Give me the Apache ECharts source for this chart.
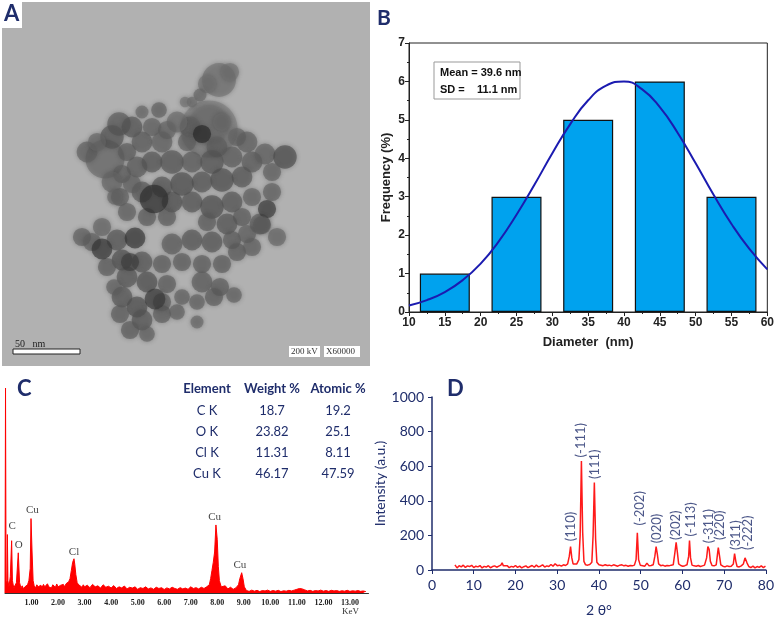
<!DOCTYPE html>
<html>
<head>
	<meta charset="UTF-8">
	<title>CuO nanoparticles: TEM, size, EDX, XRD</title>
	<script src="https://cdn.jsdelivr.net/npm/echarts@6/dist/echarts.min.js"></script>
	<style>
		html, body { margin: 0; padding: 0; background: #fff; }
		#main { width: 777px; height: 618px; }
	</style>
</head>
<body>
<div id="main"></div>

<script type="text/javascript">

	// ---- panel A : particles (x, y in image px, size, darkness)
	var temParticles = [
		[207,127,44,0.2],[103,157,30,0.35],
		[217,78,26,0.3],[228,70,14,0.3],[205,82,14,0.3],[198,93,10,0.4],[190,100,8,0.35],[183,100,8,0.3],
		[207,123,30,0.3],[188,125,16,0.45],[220,120,14,0.35],[185,140,14,0.45],[215,145,16,0.45],[200,132,14,0.95],
		[157,108,12,0.45],[140,110,10,0.4],[175,120,16,0.35],[165,128,14,0.4],[235,135,14,0.4],[245,140,16,0.45],
		[117,122,18,0.5],[130,125,16,0.55],[110,135,18,0.55],[140,140,16,0.5],[125,150,14,0.5],[150,125,14,0.45],
		[160,140,16,0.45],[85,150,16,0.45],[95,140,14,0.4],
		[120,172,14,0.45],[135,165,16,0.5],[150,160,16,0.55],[170,160,18,0.55],[190,160,16,0.5],[210,160,18,0.55],
		[230,155,16,0.5],[250,160,16,0.5],[263,152,16,0.45],[283,155,18,0.65],[270,170,14,0.45],[240,175,16,0.55],
		[220,178,18,0.6],[200,180,16,0.55],[180,182,18,0.6],[160,185,16,0.55],[140,190,16,0.5],[118,195,14,0.45],
		[110,180,16,0.4],[130,182,14,0.45],[270,190,14,0.45],
		[170,200,16,0.6],[190,200,16,0.55],[210,205,18,0.6],[230,200,16,0.55],[250,195,14,0.45],
		[258,222,16,0.45],[240,215,14,0.5],[225,222,16,0.55],[205,220,14,0.5],[165,215,14,0.5],
		[145,215,14,0.5],[125,210,14,0.45],[113,195,12,0.4],[152,197,22,0.9],[265,207,14,0.8],
		[100,225,14,0.4],[80,235,14,0.45],[90,240,14,0.45],[115,238,16,0.55],[170,242,16,0.5],[190,238,16,0.55],
		[210,240,16,0.55],[230,238,14,0.5],[245,232,14,0.45],[235,250,14,0.5],[250,245,14,0.45],[275,235,14,0.4],
		[120,258,16,0.6],[140,260,16,0.55],[160,262,14,0.5],[105,265,14,0.5],
		[180,260,14,0.5],[200,262,14,0.5],[220,262,14,0.5],[200,280,16,0.5],[218,285,14,0.5],[232,293,12,0.45],
		[212,295,14,0.5],[125,275,16,0.55],[145,280,16,0.6],[165,282,14,0.5],[120,295,16,0.55],[135,305,16,0.6],
		[112,285,12,0.45],[118,312,14,0.5],[140,318,16,0.55],[160,312,14,0.5],[128,328,14,0.5],[145,332,12,0.45],
		[160,300,14,0.5],[175,310,12,0.45],[180,295,12,0.45],[195,300,12,0.45],[195,320,10,0.4],
		[100,247,16,0.85],[133,236,16,0.85],[128,260,14,0.75],[153,297,16,0.8],[260,223,14,0.5]
	];

	// ---- panel B : size histogram
	var binCenters = [15, 25, 35, 45, 55];
	var binFreq = [1, 3, 5, 6, 3];
	var fitX = [10, 12.5, 15, 17.5, 20, 22.5, 25, 27.5, 30, 32.5, 35, 37.5, 40, 42.5, 45, 47.5, 50, 52.5, 55, 57.5, 60];
	var fitY = [0.17, 0.31, 0.52, 0.83, 1.26, 1.83, 2.53, 3.31, 4.13, 4.89, 5.51, 5.89, 6.0, 5.80, 5.33, 4.66, 3.87, 3.05, 2.29, 1.64, 1.11];

	// ---- panel C : EDX spectrum (keV, counts) and composition table
	var edsSpectrum = [
		[0.00,0],[0.02,1000],[0.04,60],[0.07,40],[0.09,285],[0.11,60],[0.15,30],[0.20,80],[0.25,255],[0.28,60],
		[0.33,25],[0.38,30],[0.43,50],[0.50,196],[0.55,50],[0.60,25],[0.65,35],[0.70,20],[0.75,30],[0.80,25],
		[0.85,40],[0.90,60],[0.95,120],[0.98,363],[1.02,200],[1.06,60],[1.10,35],[1.15,25],[1.20,40],[1.25,30],
		[1.30,22],[1.35,38],[1.40,28],[1.45,42],[1.50,30],[1.55,25],[1.60,45],[1.65,30],[1.70,36],[1.75,24],
		[1.80,40],[1.85,32],[1.90,28],[1.95,44],[2.00,30],[2.05,26],[2.10,38],[2.15,33],[2.20,42],[2.25,30],
		[2.30,45],[2.35,40],[2.40,55],[2.45,70],[2.50,110],[2.55,150],[2.60,167],[2.63,140],[2.67,90],[2.72,50],
		[2.78,40],[2.85,35],[2.90,28],[2.95,40],[3.00,30],[3.10,38],[3.20,26],[3.30,42],[3.40,30],[3.50,35],
		[3.60,24],[3.70,40],[3.80,28],[3.90,33],[4.00,25],[4.10,36],[4.20,22],[4.30,30],[4.40,25],[4.50,34],
		[4.60,20],[4.70,28],[4.80,24],[4.90,30],[5.00,18],[5.10,26],[5.20,22],[5.30,30],[5.40,20],[5.50,25],
		[5.60,18],[5.70,28],[5.80,22],[5.90,26],[6.00,17],[6.10,25],[6.20,20],[6.30,28],[6.40,22],[6.50,18],
		[6.60,26],[6.70,20],[6.80,24],[6.90,18],[7.00,30],[7.10,22],[7.20,26],[7.30,20],[7.40,28],[7.50,22],
		[7.60,30],[7.70,40],[7.75,70],[7.80,110],[7.85,150],[7.90,200],[7.95,332],[8.00,260],[8.04,130],[8.08,60],
		[8.15,30],[8.20,25],[8.30,35],[8.40,20],[8.50,28],[8.60,18],[8.70,25],[8.80,40],[8.85,70],[8.92,99],
		[8.97,70],[9.02,30],[9.10,12],[9.20,8],[9.30,14],[9.40,9],[9.50,13],[9.60,7],[9.70,12],[9.80,10],
		[9.90,14],[10.00,8],[10.10,12],[10.20,9],[10.30,13],[10.40,7],[10.50,11],[10.60,9],[10.70,13],[10.80,10],
		[10.90,14],[11.00,18],[11.10,22],[11.20,20],[11.30,15],[11.40,10],[11.50,13],[11.60,8],[11.70,12],[11.80,10],
		[11.90,14],[12.00,9],[12.10,12],[12.20,8],[12.30,13],[12.40,10],[12.50,12],[12.60,8],[12.70,11],[12.80,9],
		[12.90,13],[13.00,8],[13.10,11],[13.20,9],[13.30,12],[13.40,8],[13.50,10],[13.60,7]
	];
	var edsPeakLabels = [
		[0.27, 325, 'C'], [0.52, 235, 'O'], [1.03, 405, 'Cu'], [2.60, 198, 'Cl'], [7.90, 372, 'Cu'], [8.85, 137, 'Cu']
	];
	var tableElements = ['C K', 'O K', 'Cl K', 'Cu K'];
	var tableWeight = ['18.7', '23.82', '11.31', '46.17'];
	var tableAtomic = ['19.2', '25.1', '8.11', '47.59'];

	// ---- panel D : XRD pattern (2 theta, intensity) and Miller indices
	var xrdPattern = [
		[5.5,30],[6,12],[6.5,25],[7,18],[7.5,28],[8,15],[8.5,24],[9,20],[9.5,27],[10,14],[10.5,22],[11,18],
		[11.5,26],[12,12],[12.5,21],[13,17],[13.5,25],[14,13],[14.5,20],[15,24],[15.5,16],[16,22],[16.5,28],
		[16.8,42],[17.1,24],[17.5,18],[18,25],[18.5,14],[19,21],[19.5,17],[20,26],[20.5,15],[21,22],[21.5,12],
		[22,19],[22.5,24],[23,14],[23.5,20],[24,26],[24.5,16],[25,28],[25.5,18],[26,22],[26.5,30],[27,17],
		[27.5,24],[28,20],[28.5,32],[29,22],[29.5,36],[30,25],[30.5,28],[31,22],[31.5,30],[32,26],[32.5,35],
		[32.9,80],[33.2,135],[33.5,70],[33.8,35],[34.2,30],[34.7,35],[35.2,60],[35.5,200],[35.8,630],[36.1,220],
		[36.4,50],[36.8,30],[37.3,28],[37.8,32],[38.3,45],[38.6,200],[38.9,505],[39.2,180],[39.5,45],[40,30],
		[40.5,28],[41,25],[41.5,30],[42,26],[42.5,28],[43,24],[43.5,30],[44,26],[44.5,22],[45,28],[45.5,30],
		[46,24],[46.5,27],[47,22],[47.5,26],[48,24],[48.5,28],[48.9,60],[49.2,215],[49.5,60],[49.9,28],
		[50.5,25],[51,22],[51.5,40],[52,24],[52.5,26],[53,30],[53.4,80],[53.7,135],[54,90],[54.3,35],[54.8,25],
		[55.3,28],[55.8,22],[56.3,26],[56.8,24],[57.3,28],[57.8,30],[58.2,100],[58.5,160],[58.8,100],[59.1,35],
		[59.6,26],[60.1,22],[60.6,25],[61.1,30],[61.5,80],[61.7,170],[61.95,70],[62.3,28],[62.8,24],[63.3,22],
		[63.8,26],[64.3,20],[64.8,24],[65.3,28],[65.8,70],[66.1,135],[66.4,120],[66.7,50],[67.1,26],[67.6,24],
		[68.1,30],[68.4,90],[68.6,130],[68.9,80],[69.2,30],[69.7,22],[70.2,18],[70.7,24],[71.2,20],[71.7,22],
		[72.2,35],[72.5,95],[72.8,50],[73.1,20],[73.6,18],[74.1,24],[74.6,35],[75.0,70],[75.2,80],[75.5,40],
		[75.9,20],[76.4,14],[76.9,22],[77.4,12],[77.9,20],[78.4,15],[78.9,24],[79.4,14],[79.9,22]
	];
	var xrdPeakLabels = [
		[33.3,166,'(110)'],[35.7,651,'(-111)'],[39.0,526,'(111)'],[49.8,257,'(-202)'],[53.8,154,'(020)'],
		[58.3,173,'(202)'],[61.9,193,'(-113)'],[66.4,154,'(-311)'],[68.9,173,'(220)'],[72.9,116,'(311)'],[75.7,116,'(-222)']
	];

	var navy = '#1f2d6b';
	var myChart = echarts.init(document.getElementById('main'));

	// table of panel C built from the arrays above
	var tableGraphics = [];
	var colX = [207, 272, 338];
	var headers = ['Element', 'Weight %', 'Atomic %'];
	for (var h = 0; h < headers.length; h++) {
		tableGraphics.push({ type: 'text', x: colX[h], y: 389, style: {
			text: headers[h], fill: navy, font: 'bold 13px Lato', align: 'center', verticalAlign: 'middle' } });
	}
	for (var r = 0; r < tableElements.length; r++) {
		var row = [tableElements[r], tableWeight[r], tableAtomic[r]];
		for (var c = 0; c < 3; c++) {
			tableGraphics.push({ type: 'text', x: colX[c], y: 411 + r * 21, style: {
				text: row[c], fill: navy, font: '13px Lato', align: 'center', verticalAlign: 'middle' } });
		}
	}

	var option = {
		backgroundColor: '#fff',
		animation: false,
		grid: [
			{ left: 2, top: 2, width: 368, height: 364, show: true, backgroundColor: '#b1b1b1', borderWidth: 0 },
			{ left: 409, top: 43, width: 361, height: 269, show: true, borderColor: '#222', borderWidth: 1 },
			{ left: 5, top: 388, width: 363.5, height: 205 },
			{ left: 432, top: 397, width: 338, height: 175 }
		],
		xAxis: [
			{ gridIndex: 0, type: 'value', min: 0, max: 368, show: false },
			{ gridIndex: 1, type: 'value', min: 10, max: 60, interval: 5,
				name: 'Diameter  (nm)', nameLocation: 'middle', nameGap: 24,
				nameTextStyle: { fontFamily: 'Liberation Sans', fontWeight: 'bold', fontSize: 13, color: '#222' },
				axisLine: { lineStyle: { color: '#222' } },
				axisTick: { length: 4, lineStyle: { color: '#222' } },
				minorTick: { show: true, splitNumber: 2, length: 2, lineStyle: { color: '#222' } },
				axisLabel: { fontFamily: 'Liberation Sans', fontWeight: 'bold', fontSize: 12, color: '#222', margin: 5 },
				splitLine: { show: false } },
			{ gridIndex: 2, type: 'value', min: 0, max: 13.7, interval: 1,
				axisLine: { lineStyle: { color: '#333', width: 1 } },
				axisTick: { show: false },
				axisLabel: { fontFamily: 'Liberation Serif', fontWeight: 'bold', fontSize: 8, color: '#222', margin: 6,
					showMaxLabel: false,
					formatter: function (v) { return (v === 0 || v % 1 !== 0) ? '' : v.toFixed(2); } },
				splitLine: { show: false } },
			{ gridIndex: 3, type: 'value', min: 0, max: 80, interval: 10,
				name: '2 \u03b8\u00b0', nameLocation: 'middle', nameGap: 33,
				nameTextStyle: { fontFamily: 'Lato', fontSize: 14, color: navy },
				axisLine: { lineStyle: { color: navy, width: 1.5 } },
				axisTick: { length: 4, lineStyle: { color: navy } },
				axisLabel: { fontFamily: 'Lato', fontSize: 14, color: navy, margin: 8 },
				splitLine: { show: false } }
		],
		yAxis: [
			{ gridIndex: 0, type: 'value', min: 0, max: 364, inverse: true, show: false },
			{ gridIndex: 1, type: 'value', min: 0, max: 7, interval: 1,
				name: 'Frequency (%)', nameLocation: 'middle', nameGap: 16,
				nameTextStyle: { fontFamily: 'Liberation Sans', fontWeight: 'bold', fontSize: 13, color: '#222' },
				axisLine: { show: true, lineStyle: { color: '#222' } },
				axisTick: { show: true, length: 4, lineStyle: { color: '#222' } },
				minorTick: { show: true, splitNumber: 2, length: 2, lineStyle: { color: '#222' } },
				axisLabel: { fontFamily: 'Liberation Sans', fontWeight: 'bold', fontSize: 12, color: '#222', margin: 4 },
				splitLine: { show: false } },
			{ gridIndex: 2, type: 'value', min: 0, max: 1000, show: false },
			{ gridIndex: 3, type: 'value', min: 0, max: 1000, interval: 200,
				name: 'Intensity (a.u.)', nameLocation: 'middle', nameGap: 44,
				nameTextStyle: { fontFamily: 'Lato', fontSize: 14, color: navy },
				axisLine: { show: true, lineStyle: { color: navy, width: 1.5 } },
				axisTick: { show: true, length: 4, lineStyle: { color: navy } },
				axisLabel: { fontFamily: 'Lato', fontSize: 14, color: navy, margin: 8,
					formatter: function (v) { return String(v); } },
				splitLine: { show: false } }
		],
		series: [
			// A: TEM micrograph particles, soft edges and overlapping
			{ type: 'scatter', xAxisIndex: 0, yAxisIndex: 0, data: temParticles,
				symbolSize: function (d) { return d[2] * 1.3; },
				itemStyle: { opacity: 0.62, shadowBlur: 4, shadowColor: 'rgba(60,60,60,0.6)',
					color: function (p) {
						var g = Math.round(150 - 120 * p.data[3]);
						return 'rgb(' + g + ',' + g + ',' + g + ')';
					} } },
			// B: histogram + normal fit
			{ type: 'bar', xAxisIndex: 1, yAxisIndex: 1, barWidth: 50,
				data: binCenters.map(function (x, i) { return [x, binFreq[i]]; }),
				itemStyle: { color: '#00a2ee', borderColor: '#111', borderWidth: 1.2 } },
			{ type: 'line', xAxisIndex: 1, yAxisIndex: 1, smooth: true, showSymbol: false,
				data: fitX.map(function (x, i) { return [x, fitY[i]]; }),
				lineStyle: { color: '#1b1bb0', width: 2 } },
			// C: EDX spectrum
			{ type: 'line', xAxisIndex: 2, yAxisIndex: 2, showSymbol: false, data: edsSpectrum,
				lineStyle: { color: '#ff0000', width: 1 }, areaStyle: { color: '#ff0000', opacity: 1 } },
			{ type: 'scatter', xAxisIndex: 2, yAxisIndex: 2, symbolSize: 0, data: edsPeakLabels,
				label: { show: true, position: 'inside', formatter: function (p) { return p.data[2]; },
					fontFamily: 'Liberation Serif', fontSize: 11, color: '#111' } },
			// D: XRD pattern
			{ type: 'line', xAxisIndex: 3, yAxisIndex: 3, showSymbol: false, data: xrdPattern,
				lineStyle: { color: '#ff1a1a', width: 1.5 } },
			{ type: 'scatter', xAxisIndex: 3, yAxisIndex: 3, symbolSize: 0, data: xrdPeakLabels,
				label: { show: true, position: 'inside', rotate: 90, align: 'left', verticalAlign: 'middle',
					formatter: function (p) { return p.data[2]; },
					fontFamily: 'Lato', fontSize: 13, color: navy } }
		],
		graphic: [
			// panel letters
			{ type: 'rect', shape: { x: 0, y: 0, width: 22, height: 28 }, style: { fill: '#fff' } },
			{ type: 'text', x: 4, y: 3, style: { text: 'A', font: 'bold 22px Lato', fill: navy } },
			{ type: 'text', x: 377, y: 8, style: { text: 'B', font: 'bold 21px Lato', fill: navy } },
			{ type: 'text', x: 17, y: 378, style: { text: 'C', font: 'bold 22px Lato', fill: navy } },
			{ type: 'text', x: 447, y: 378, style: { text: 'D', font: 'bold 22px Lato', fill: navy } },
			// TEM scale bar and captions
			{ type: 'rect', shape: { x: 13, y: 349, width: 67, height: 5 }, style: { fill: '#fff', stroke: '#222', lineWidth: 1 } },
			{ type: 'text', x: 15, y: 339, style: { text: '50   nm', font: '10px Liberation Serif', fill: '#222' } },
			{ type: 'rect', shape: { x: 289, y: 346, width: 31, height: 11 }, style: { fill: '#fff' } },
			{ type: 'text', x: 291, y: 347, style: { text: '200 kV', font: '9px Liberation Serif', fill: '#333' } },
			{ type: 'rect', shape: { x: 324, y: 346, width: 36, height: 11 }, style: { fill: '#fff' } },
			{ type: 'text', x: 326, y: 347, style: { text: 'X60000', font: '9px Liberation Serif', fill: '#333' } },
			// stats box
			{ type: 'rect', shape: { x: 434, y: 62, width: 86, height: 37 }, style: { fill: '#fff', stroke: '#999', lineWidth: 1 } },
			{ type: 'text', x: 440, y: 67, style: { text: 'Mean = 39.6 nm', font: 'bold 11px Liberation Sans', fill: '#111' } },
			{ type: 'text', x: 440, y: 84, style: { text: 'SD =    11.1 nm', font: 'bold 11px Liberation Sans', fill: '#111' } },
			// EDX axis unit
			{ type: 'text', x: 342, y: 607, style: { text: 'KeV', font: '9px Liberation Serif', fill: '#333' } }
		].concat(tableGraphics)
	};

	myChart.setOption(option);

</script>
</body>
</html>
